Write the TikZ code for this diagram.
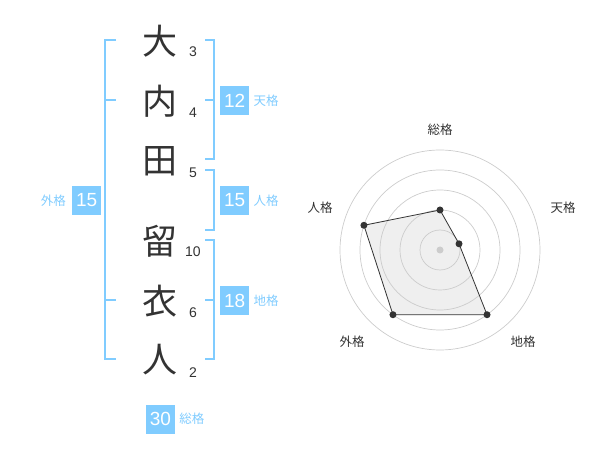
\documentclass[tikz,border=0pt]{standalone}
\usepackage{fontspec}
\setmainfont{Liberation Sans}
\newfontfamily\jpfont{Noto Sans CJK JP}
\usepackage{xcolor}
\usetikzlibrary{positioning}
\definecolor{skyblue}{HTML}{80CCFF}
\definecolor{ink}{HTML}{333333}
\definecolor{ringgray}{HTML}{CCCCCC}
\definecolor{area}{HTML}{EFEFEF}

\begin{document}
\begin{tikzpicture}[
    x=1pt, y=1pt,
    kanji/.style={font=\jpfont\fontsize{35}{35}\selectfont, text=ink, inner sep=0pt},
    strokes/.style={font=\fontsize{14}{14}\selectfont, text=ink, inner sep=0pt},
    score/.style={fill=skyblue, text=white, minimum size=29pt, inner sep=0pt,
      font=\fontsize{19}{19}\selectfont},
    kaku/.style={text=skyblue, inner sep=0pt, font=\jpfont\fontsize{12.5}{12.5}\selectfont},
    bracket/.style={draw=skyblue, line width=1.8pt},
    ring/.style={draw=ringgray, line width=0.7pt},
    axislabel/.style={text=ink, inner sep=0pt, font=\jpfont\fontsize{12.5}{12.5}\selectfont},
    dot/.style={circle, fill=ink, inner sep=0pt, minimum size=7pt}
  ]
  \useasboundingbox (0,0) rectangle (600,-470);

  % name
  \node[kanji] (K1) at (160,-41) {大};
  \node[kanji] (K2) at (160,-101) {内};
  \node[kanji] (K3) at (160,-161) {田};
  \node[kanji] (K4) at (160,-241) {留};
  \node[kanji] (K5) at (160,-301) {衣};
  \node[kanji] (K6) at (160,-360) {人};

  \node[strokes] (S1) at (193,-52) {3};
  \node[strokes] (S2) at (193,-113) {4};
  \node[strokes] (S3) at (193,-173) {5};
  \node[strokes] (S4) at (193,-252) {10};
  \node[strokes] (S5) at (193,-313) {6};
  \node[strokes] (S6) at (193,-373) {2};

  % brackets
  \draw[bracket] (116,-40) -- (105,-40) -- (105,-359) -- (116,-359);
  \draw[bracket] (105,-100) -- (116,-100);
  \draw[bracket] (105,-300) -- (116,-300);
  \draw[bracket] (205,-40) -- (214,-40) -- (214,-159) -- (205,-159);
  \draw[bracket] (214,-100) -- (205,-100);
  \draw[bracket] (205,-170) -- (214,-170) -- (214,-230) -- (205,-230);
  \draw[bracket] (205,-240) -- (214,-240) -- (214,-359) -- (205,-359);
  \draw[bracket] (214,-300) -- (205,-300);

  % scores
  \node[score] (ten) at (234.7,-100.5) {12};
  \node[score] (jin) at (234.7,-200.5) {15};
  \node[score] (chi) at (234.7,-300.5) {18};
  \node[score] (gai) at (86.7,-200.5) {15};
  \node[score] (sou) at (160.5,-419) {30};
  \node[kaku, right=4pt of ten] (tenL) {天格};
  \node[kaku, right=4pt of jin] (jinL) {人格};
  \node[kaku, right=4pt of chi] (chiL) {地格};
  \node[kaku, left=6pt of gai] (gaiL) {外格};
  \node[kaku, right=4pt of sou] (souL) {総格};

  % radar
  \begin{scope}[shift={(440,-250)}]
    \coordinate (pSou) at (90:40);
    \coordinate (pTen) at (18:20);
    \coordinate (pChi) at (-54:80);
    \coordinate (pGai) at (-126:80);
    \coordinate (pJin) at (162:80);
    \fill[area] (pSou) -- (pTen) -- (pChi) -- (pGai) -- (pJin) -- cycle;
    \draw[ring] (0,0) circle (20) (0,0) circle (40) (0,0) circle (60)
      (0,0) circle (80) (0,0) circle (100);
    \draw[ink, line width=0.8pt] (pSou) -- (pTen) -- (pChi) -- (pGai) -- (pJin) -- cycle;
    \node[dot, fill=ringgray] (mid) at (0,0) {};
    \node[dot] (dSou) at (pSou) {};
    \node[dot] (dTen) at (pTen) {};
    \node[dot] (dChi) at (pChi) {};
    \node[dot] (dGai) at (pGai) {};
    \node[dot] (dJin) at (pJin) {};
  \end{scope}
  \node[axislabel] (aSou) at (440,-130) {総格};
  \node[axislabel] (aTen) at (563,-208) {天格};
  \node[axislabel] (aChi) at (523,-342) {地格};
  \node[axislabel] (aGai) at (352,-342) {外格};
  \node[axislabel] (aJin) at (320,-208) {人格};
\end{tikzpicture}
\end{document}
